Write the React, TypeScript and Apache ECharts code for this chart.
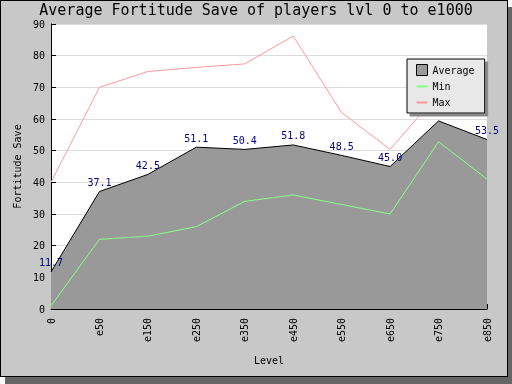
import React, { useEffect, useRef } from "react";
import * as echarts from "echarts";

const levels = ["0", "e50", "e150", "e250", "e350", "e450", "e550", "e650", "e750", "e850"];
const averageValues = [11.7, 37.1, 42.5, 51.1, 50.4, 51.8, 48.5, 45.0, 59.4, 53.5];
const minValues = [1, 22, 23, 26, 34, 36, 33, 30, 52.8, 41];
const maxValues = [40, 70, 75, 76.3, 77.4, 86.2, 62, 50.4, 68, 72];
const hiddenLabelIndex = 8;

const MONO = "DejaVu Sans Mono";
const LINE_ICON = "path://M0 0h0M0 11h0M0 4.5h11v2h-11z";

export default function App() {
  const ref = useRef<HTMLDivElement>(null);
  useEffect(() => {
    if (!ref.current) return;
    const chart = echarts.init(ref.current, null, { renderer: "svg" });
    chart.setOption({
      animation: false,
      title: {
        text: "Average Fortitude Save of players lvl 0 to e1000",
        left: "center",
        top: 0,
        padding: [2, 5, 0, 5],
        textStyle: { fontFamily: MONO, fontSize: 15, lineHeight: 16, fontWeight: "normal", color: "#000" },
      },
      legend: {
        orient: "vertical",
        left: 407,
        top: 59,
        padding: [5, 10, 5, 9],
        itemGap: 5,
        itemWidth: 11,
        itemHeight: 11,
        backgroundColor: "#e8e8e8",
        borderColor: "#000",
        borderWidth: 1,
        borderRadius: 0,
        shadowColor: "#888",
        shadowOffsetX: 3,
        shadowOffsetY: 3,
        shadowBlur: 0.01,
        textStyle: { fontFamily: MONO, fontSize: 10, color: "#000" },
        data: [
          { name: "Average", icon: "rect", itemStyle: { color: "#999999", borderColor: "#000", borderWidth: 1 } },
          { name: "Min", icon: LINE_ICON, itemStyle: { color: "#88ff88", borderWidth: 0 } },
          { name: "Max", icon: LINE_ICON, itemStyle: { color: "#ff9999", borderWidth: 0 } },
        ],
      },
      grid: {
        left: 51,
        right: 25,
        top: 24,
        bottom: 75,
        show: true,
        backgroundColor: "#ffffff",
        borderWidth: 0,
      },
      xAxis: {
        type: "category",
        data: levels,
        boundaryGap: false,
        name: "Level",
        nameLocation: "middle",
        nameGap: 46,
        nameTextStyle: { fontFamily: MONO, fontSize: 10, color: "#000" },
        axisLine: { lineStyle: { color: "#000" } },
        axisTick: { inside: true, length: 5, lineStyle: { color: "#000" } },
        axisLabel: { rotate: 90, margin: 9, fontFamily: MONO, fontSize: 10, color: "#000", interval: 0 },
        splitLine: { show: false },
      },
      yAxis: {
        type: "value",
        min: 0,
        max: 90,
        interval: 10,
        name: "Fortitude Save",
        nameLocation: "middle",
        nameGap: 20,
        nameTextStyle: { fontFamily: MONO, fontSize: 10, color: "#000" },
        axisLine: { show: true, lineStyle: { color: "#000" } },
        axisTick: { show: true, inside: true, length: 5, lineStyle: { color: "#000" } },
        axisLabel: { margin: 6, fontFamily: MONO, fontSize: 10, color: "#000" },
        splitLine: { show: true, lineStyle: { color: "#dddddd" } },
      },
      series: [
        {
          name: "Average",
          type: "line",
          symbol: "circle",
          symbolSize: 0.1,
          showSymbol: true,
          data: averageValues.map((v, i) =>
            i === hiddenLabelIndex ? { value: v, label: { show: false } } : v
          ),
          lineStyle: { color: "#000", width: 1 },
          itemStyle: { color: "#000" },
          areaStyle: { color: "#999999", opacity: 1 },
          label: {
            show: true,
            position: "top",
            distance: 4,
            fontFamily: MONO,
            fontSize: 10,
            color: "#000080",
            formatter: (p: any) => Number(p.value).toFixed(1),
          },
          z: 2,
        },
        {
          name: "Min",
          type: "line",
          symbol: "none",
          data: minValues,
          lineStyle: { color: "#88ff88", width: 1 },
          itemStyle: { color: "#88ff88" },
          z: 3,
        },
        {
          name: "Max",
          type: "line",
          symbol: "none",
          data: maxValues,
          lineStyle: { color: "#ff9999", width: 1 },
          itemStyle: { color: "#ff9999" },
          z: 3,
        },
      ],
    });
    return () => chart.dispose();
  }, []);
  return (
    <>
      <div
        style={{
          position: "fixed",
          left: 0,
          top: 0,
          width: 508,
          height: 377,
          boxSizing: "border-box",
          border: "1px solid #000",
          background: "#c8c8c8",
          boxShadow: "5px 7px 0 #666",
        }}
      />
      <div ref={ref} style={{ position: "fixed", left: 0, top: 0, width: 512, height: 384 }} />
    </>
  );
}
